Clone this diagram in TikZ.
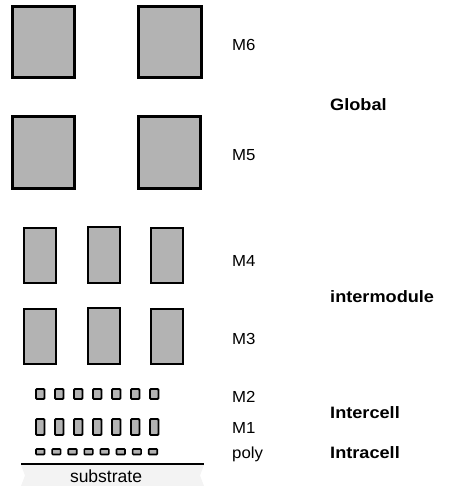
\documentclass[tikz,border=0pt]{standalone}
\usepackage{fontspec}
\setmainfont{Liberation Sans}
\newfontfamily\labfont[FakeStretch=1.05]{Liberation Sans}
\newfontfamily\bigfont[FakeStretch=1.1]{Liberation Sans}
\definecolor{boxgray}{RGB}{179,179,179}
\definecolor{subgray}{RGB}{243,243,243}
\tikzset{
  bigbox/.style={draw=black, fill=boxgray, line width=3pt},
  midbox/.style={draw=black, fill=boxgray, line width=2.6pt},
  smallbox/.style={draw=black, fill=boxgray, line width=1.8pt, rounded corners=1pt},
  lvl/.style={anchor=base west, inner sep=0pt, font=\labfont\fontsize{16}{16}\selectfont},
  grp/.style={anchor=base west, inner sep=0pt, font=\bigfont\bfseries\fontsize{16.5}{16.5}\selectfont},
}
\begin{document}
\begin{tikzpicture}[x=1pt,y=-1pt]
\useasboundingbox (0,0) rectangle (461,486);
% M6
\draw[bigbox] (12,7) rectangle (74,78);
\draw[bigbox] (138,7) rectangle (201,78);
% M5
\draw[bigbox] (12,117) rectangle (74,188);
\draw[bigbox] (138,117) rectangle (200,188);
% M4
\draw[midbox] (24,228) rectangle (56,283);
\draw[midbox] (88,227) rectangle (120,283);
\draw[midbox] (151,228) rectangle (183,283);
% M3
\draw[midbox] (24,309) rectangle (56,364);
\draw[midbox] (88,308) rectangle (120,364);
\draw[midbox] (151,309) rectangle (183,364);
% M2 and M1
\foreach \i in {0,...,6} {
  \draw[smallbox] ({36+19*\i},389) rectangle ({44.5+19*\i},399);
  \draw[smallbox] ({36+19*\i},419) rectangle ({44.5+19*\i},435);
}
% poly
\foreach \i in {0,...,7} {
  \draw[smallbox, line width=1.6pt, rounded corners=0.8pt] ({36+16.1*\i},449) rectangle ({44.5+16.1*\i},454.5);
}
% substrate
\fill[subgray] (21,465) -- (25,475.5) -- (21,486) -- (204,486) -- (200,475.5) -- (204,465) -- cycle;
\coordinate (sl) at (21,464);
\coordinate (sr) at (204,464);
\draw[line width=1.5pt] (sl) -- (sr);
\node[anchor=base, inner sep=0pt, font=\fontsize{17.5}{17.5}\selectfont] (sub) at (106,482) {substrate};
% level labels
\node[lvl] (m6) at (232,50.5) {M6};
\node[lvl] (m5) at (232,161) {M5};
\node[lvl] (m4) at (232,266) {M4};
\node[lvl] (m3) at (232,344) {M3};
\node[lvl] (m2) at (232,402) {M2};
\node[lvl] (m1) at (232,433.5) {M1};
\node[lvl] (poly) at (232,458) {poly};
% group labels
\node[grp] (global) at (330,111) {Global};
\node[grp] (inter) at (330,302) {intermodule};
\node[grp] (intercell) at (330,418) {Intercell};
\node[grp] (intracell) at (330,458) {Intracell};
\end{tikzpicture}
\end{document}
